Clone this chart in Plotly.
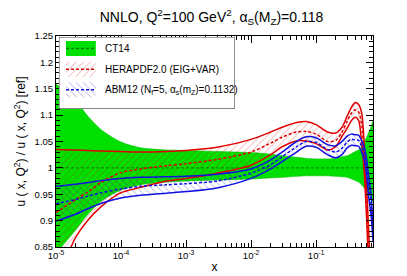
import plotly.graph_objects as go

# ---------------- data ----------------
x = [1e-5, 2e-5, 3e-5, 5e-5, 1e-4, 2e-4, 5e-4, 1e-3, 3e-3, 1e-2, 2e-2, 3e-2, 5e-2, 7e-2,
     0.1, 0.15, 0.2, 0.25, 0.3, 0.35, 0.4, 0.45, 0.5, 0.55, 0.6, 0.65, 0.7, 0.75]

ct14_up = [1.159, 1.128, 1.100, 1.072, 1.049, 1.038, 1.034, 1.033, 1.031, 1.029, 1.026, 1.023,
           1.020, 1.018, 1.017, 1.017, 1.018, 1.021, 1.023, 1.027, 1.031, 1.034, 1.040, 1.050,
           1.058, 1.068, 1.078, 1.090]
ct14_lo = [0.838, 0.882, 0.910, 0.937, 0.958, 0.968, 0.973, 0.975, 0.977, 0.979, 0.981, 0.982,
           0.984, 0.985, 0.985, 0.985, 0.984, 0.983, 0.982, 0.979, 0.976, 0.973, 0.968, 0.962,
           0.956, 0.950, 0.944, 0.935]
ct14_c = [1.0] * len(x)

hera_up = [1.035, 1.034, 1.033, 1.032, 1.031, 1.030, 1.031, 1.033, 1.039, 1.054, 1.068, 1.077,
           1.086, 1.088, 1.082, 1.068, 1.066, 1.077, 1.098, 1.115, 1.124, 1.120, 1.105, 1.045,
           0.960, 0.870, 0.780, 0.700]
hera_c = [0.915, 0.940, 0.953, 0.973, 0.991, 0.998, 1.004, 1.008, 1.016, 1.030, 1.047, 1.058,
          1.068, 1.069, 1.064, 1.050, 1.052, 1.068, 1.088, 1.104, 1.110, 1.106, 1.083, 1.020,
          0.930, 0.835, 0.750, 0.680]
hera_lo = [0.780, 0.868, 0.899, 0.927, 0.953, 0.963, 0.975, 0.980, 0.990, 1.005, 1.025, 1.040,
           1.051, 1.051, 1.046, 1.034, 1.040, 1.060, 1.075, 1.090, 1.096, 1.090, 1.050, 0.990,
           0.900, 0.800, 0.720, 0.650]

abm_up = [0.965, 0.969, 0.972, 0.976, 0.980, 0.982, 0.983, 0.984, 0.988, 0.998, 1.015, 1.030,
          1.050, 1.059, 1.057, 1.044, 1.042, 1.050, 1.060, 1.064, 1.063, 1.062, 1.052, 1.040,
          1.015, 0.980, 0.950, 0.890]
abm_c = [0.932, 0.940, 0.946, 0.953, 0.960, 0.965, 0.968, 0.970, 0.975, 0.990, 1.006, 1.021,
         1.040, 1.050, 1.048, 1.035, 1.030, 1.037, 1.049, 1.054, 1.053, 1.052, 1.041, 1.028,
         1.000, 0.960, 0.930, 0.875]
abm_lo = [0.899, 0.912, 0.922, 0.933, 0.943, 0.948, 0.952, 0.955, 0.962, 0.980, 0.998, 1.012,
          1.030, 1.041, 1.039, 1.025, 1.019, 1.025, 1.038, 1.043, 1.042, 1.041, 1.030, 1.015,
          0.985, 0.940, 0.910, 0.860]

x_major = [1e-5, 1e-4, 1e-3, 1e-2, 1e-1]
x_major_text = ["10<sup>-5</sup>", "10<sup>-4</sup>", "10<sup>-3</sup>", "10<sup>-2</sup>", "10<sup>-1</sup>"]

legend_names = ["CT14", "HERAPDF2.0 (EIG+VAR)",
                "ABM12 (N<sub>f</sub>=5, α<sub>s</sub>(m<sub>Z</sub>)=0.1132)"]

# ---------------- styles ----------------
FONT = "Liberation Sans, Arial, Helvetica, sans-serif"
GREEN = "#00e000"
DKGREEN = "#007a00"
RED = "#e00000"
BLUE = "#1010e0"
SPL = dict(shape="spline", smoothing=0.8)
DASH = "3px,2px"
RED_PAT = dict(shape="/", fgcolor="#e01010", size=5, solidity=0.14)
BLUE_PAT = dict(shape="\\", fgcolor="#2020e8", size=5, solidity=0.14)

fig = go.Figure()

# CT14 band
fig.add_trace(go.Scatter(x=x, y=ct14_lo, mode="lines", line=dict(color="#00c000", width=0.6, **SPL),
                         showlegend=False, hoverinfo="skip"))
fig.add_trace(go.Scatter(x=x, y=ct14_up, mode="lines", fill="tonexty", fillcolor=GREEN,
                         line=dict(color="#00c000", width=0.6, **SPL), showlegend=False, hoverinfo="skip"))

# HERAPDF band (hatched)
fig.add_trace(go.Scatter(x=x, y=hera_lo, mode="lines", line=dict(color=RED, width=0, **SPL),
                         showlegend=False, hoverinfo="skip"))
fig.add_trace(go.Scatter(x=x, y=hera_up, mode="lines", fill="tonexty", fillcolor="rgba(0,0,0,0)",
                         fillpattern=RED_PAT,
                         line=dict(color=RED, width=0, **SPL), showlegend=False, hoverinfo="skip"))

# ABM12 band (hatched)
fig.add_trace(go.Scatter(x=x, y=abm_lo, mode="lines", line=dict(color=BLUE, width=0, **SPL),
                         showlegend=False, hoverinfo="skip"))
fig.add_trace(go.Scatter(x=x, y=abm_up, mode="lines", fill="tonexty", fillcolor="rgba(0,0,0,0)",
                         fillpattern=BLUE_PAT,
                         line=dict(color=BLUE, width=0, **SPL), showlegend=False, hoverinfo="skip"))

# central lines and band edges
fig.add_trace(go.Scatter(x=x, y=ct14_c, mode="lines", line=dict(color=DKGREEN, width=1, dash=DASH),
                         showlegend=False, hoverinfo="skip"))
for arr in (hera_lo, hera_up):
    fig.add_trace(go.Scatter(x=x, y=arr, mode="lines", line=dict(color=RED, width=1.5, **SPL),
                             showlegend=False, hoverinfo="skip"))
fig.add_trace(go.Scatter(x=x, y=hera_c, mode="lines", line=dict(color=RED, width=1.5, dash=DASH, **SPL),
                         showlegend=False, hoverinfo="skip"))
for arr in (abm_lo, abm_up):
    fig.add_trace(go.Scatter(x=x, y=arr, mode="lines", line=dict(color=BLUE, width=1.5, **SPL),
                             showlegend=False, hoverinfo="skip"))
fig.add_trace(go.Scatter(x=x, y=abm_c, mode="lines", line=dict(color=BLUE, width=1.5, dash=DASH, **SPL),
                         showlegend=False, hoverinfo="skip"))

# ---------------- legend drawn on its own small subplot ----------------
box = dict(x=[0, 1, 1, 0, 0], y=[0, 0, 1, 1, 0])
fig.add_trace(go.Scatter(**box, xaxis="x2", yaxis="y2", mode="lines", fill="toself",
                         fillcolor="white", line=dict(color="#333333", width=1),
                         showlegend=False, hoverinfo="skip"))
row_y = [0.84, 0.55, 0.265]
sw_x0, sw_x1, sw_h = 0.04, 0.21, 0.105
sw_styles = [
    dict(fillcolor=GREEN, line=DKGREEN),
    dict(fillcolor="white", pat=RED_PAT, line=RED),
    dict(fillcolor="white", pat=BLUE_PAT, line=BLUE),
]
for ry, st, name in zip(row_y, sw_styles, legend_names):
    kw = {}
    if "pat" in st:
        kw["fillpattern"] = st["pat"]
    fig.add_trace(go.Scatter(x=[sw_x0, sw_x1, sw_x1, sw_x0, sw_x0],
                             y=[ry - sw_h, ry - sw_h, ry + sw_h, ry + sw_h, ry - sw_h],
                             xaxis="x2", yaxis="y2", mode="lines", fill="toself",
                             fillcolor=st["fillcolor"], line=dict(width=0), showlegend=False,
                             hoverinfo="skip", **kw))
    fig.add_trace(go.Scatter(x=[sw_x0, sw_x1], y=[ry, ry], xaxis="x2", yaxis="y2", mode="lines",
                             line=dict(color=st["line"], width=1.5, dash=DASH), showlegend=False,
                             hoverinfo="skip"))
    fig.add_annotation(x=0.25, y=ry, xref="x2", yref="y2", text=name, showarrow=False,
                       xanchor="left", yanchor="middle", font=dict(family=FONT, size=10, color="black"))

axis_common = dict(showline=True, linecolor="black", linewidth=1, mirror="ticks",
                   ticks="inside", tickcolor="black", showgrid=False, zeroline=False,
                   tickfont=dict(family=FONT, size=9.5, color="black"))

fig.update_layout(
    width=407, height=276,
    margin=dict(l=42, r=42, t=28, b=28),
    paper_bgcolor="white", plot_bgcolor="white",
    showlegend=False,
    title=dict(text="NNLO, Q<sup>2</sup>=100 GeV<sup>2</sup>, α<sub>S</sub>(M<sub>Z</sub>)=0.118",
               x=0.5, xanchor="center", y=0.985, yanchor="top",
               font=dict(family=FONT, size=14, color="black")),
    xaxis=dict(type="log", range=[-5, -0.125], tickmode="array", tickvals=x_major,
               ticktext=x_major_text, ticklen=7,
               minor=dict(tickmode="array",
                          tickvals=[m * 10.0 ** e for e in range(-5, 0) for m in range(2, 10)],
                          ticks="inside", ticklen=4, tickcolor="black"),
               title=dict(text="x", font=dict(family=FONT, size=12, color="black"), standoff=2),
               **axis_common),
    yaxis=dict(range=[0.85, 1.25], dtick=0.05, ticklen=7,
               minor=dict(dtick=0.01, ticks="inside", ticklen=4, tickcolor="black"),
               title=dict(text="u ( x, Q<sup>2</sup>) / u ( x, Q<sup>2</sup>) [ref]",
                          font=dict(family=FONT, size=12, color="black"), standoff=6),
               **axis_common),
    xaxis2=dict(domain=[0.0093, 0.5635], range=[0, 1], visible=False, anchor="y2", fixedrange=True),
    yaxis2=dict(domain=[0.6545, 0.9955], range=[0, 1], visible=False, anchor="x2", fixedrange=True),
)

fig.write_html("out.html")
